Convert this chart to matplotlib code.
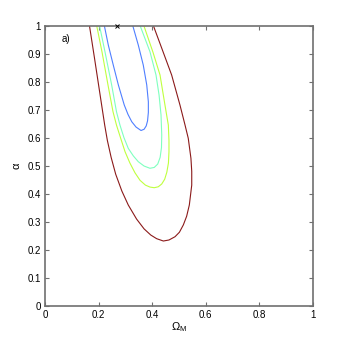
import matplotlib
matplotlib.use("Agg")
import matplotlib.pyplot as plt

plt.rcParams['font.family'] = ['Liberation Sans', 'DejaVu Sans']
plt.rcParams['mathtext.fontset'] = 'custom'
plt.rcParams['mathtext.rm'] = 'Liberation Sans'
plt.rcParams['mathtext.it'] = 'Liberation Sans'
plt.rcParams['mathtext.default'] = 'regular'

# Contour paths (Omega_M, alpha)
blue_x = [0.2215, 0.2365, 0.255, 0.274, 0.296, 0.310, 0.324, 0.340, 0.3586, 0.370, 0.378, 0.383, 0.386, 0.386, 0.380, 0.367, 0.3485, 0.3276]
blue_y = [1.000, 0.930, 0.859, 0.788, 0.7166, 0.683, 0.657, 0.638, 0.6257, 0.630, 0.642, 0.660, 0.690, 0.728, 0.788, 0.859, 0.930, 1.000]

cyan_x = [0.2035, 0.224, 0.249, 0.267, 0.280, 0.295, 0.311, 0.330, 0.3485, 0.370, 0.392, 0.408, 0.421, 0.430, 0.435, 0.436, 0.4333, 0.426, 0.4146, 0.392, 0.355]
cyan_y = [1.000, 0.9066, 0.788, 0.6927, 0.645, 0.600, 0.562, 0.535, 0.5144, 0.499, 0.491, 0.494, 0.506, 0.530, 0.565, 0.610, 0.681, 0.752, 0.8235, 0.9066, 1.000]

green_x = [0.193, 0.213, 0.2353, 0.254, 0.267, 0.283, 0.299, 0.317, 0.336, 0.355, 0.375, 0.392, 0.408, 0.423, 0.436, 0.447, 0.455, 0.461, 0.463, 0.463, 0.4606, 0.448, 0.4296, 0.403, 0.369]
green_y = [1.000, 0.9055, 0.788, 0.6927, 0.645, 0.597, 0.550, 0.510, 0.475, 0.448, 0.431, 0.424, 0.4217, 0.425, 0.435, 0.452, 0.477, 0.510, 0.550, 0.590, 0.645, 0.7166, 0.8235, 0.9055, 1.000]

red_x = [0.166, 0.185, 0.204, 0.223, 0.233, 0.247, 0.264, 0.287, 0.311, 0.342, 0.370, 0.395, 0.417, 0.442, 0.463, 0.4856, 0.502, 0.5166, 0.529, 0.539, 0.548, 0.548, 0.545, 0.535, 0.523, 0.504, 0.473, 0.436, 0.4045]
red_y = [1.000, 0.883, 0.764, 0.645, 0.590, 0.530, 0.470, 0.410, 0.360, 0.310, 0.275, 0.253, 0.240, 0.2317, 0.2353, 0.247, 0.263, 0.289, 0.320, 0.360, 0.431, 0.480, 0.5266, 0.598, 0.645, 0.7166, 0.8235, 0.919, 1.000]

best_x = [0.269]
best_y = [1.0]

x_ticks = [0, 0.2, 0.4, 0.6, 0.8, 1]
x_labels = ['0', '0.2', '0.4', '0.6', '0.8', '1']
y_ticks = [0, 0.1, 0.2, 0.3, 0.4, 0.5, 0.6, 0.7, 0.8, 0.9, 1]
y_labels = ['0', '0.1', '0.2', '0.3', '0.4', '0.5', '0.6', '0.7', '0.8', '0.9', '1']

fig = plt.figure(figsize=(3.46, 3.46), dpi=100)
ax = fig.add_axes([0.130, 0.1156, 0.774, 0.8107])

lw = 0.8
ax.plot(red_x, red_y, color='#8b1a1a', lw=lw, solid_joinstyle='round')
ax.plot(green_x, green_y, color='#bfff3f', lw=lw, solid_joinstyle='round')
ax.plot(cyan_x, cyan_y, color='#7fffbf', lw=lw, solid_joinstyle='round')
ax.plot(blue_x, blue_y, color='#4f7fff', lw=lw, solid_joinstyle='round')
ax.plot(best_x, best_y, 'x', color='black', ms=3.5, mew=0.7, clip_on=False, zorder=5)

ax.set_xlim(0, 1)
ax.set_ylim(0, 1)
ax.set_xticks(x_ticks)
ax.set_xticklabels(x_labels)
ax.set_yticks(y_ticks)
ax.set_yticklabels(y_labels)
ax.tick_params(direction='in', length=3, width=0.8, colors='#707070', labelcolor='black',
               labelsize=7, top=True, right=True, pad=3)
for s in ax.spines.values():
    s.set_color('#707070')
    s.set_linewidth(1.2)

ax.set_xlabel(r'$\Omega_{M}$', fontsize=8, labelpad=0)
ax.set_ylabel(r'$\alpha$', fontsize=8, labelpad=4)
ax.text(0.063, 0.94, 'a)', fontsize=7, transform=ax.transData)

fig.savefig('out.png', dpi=100)
